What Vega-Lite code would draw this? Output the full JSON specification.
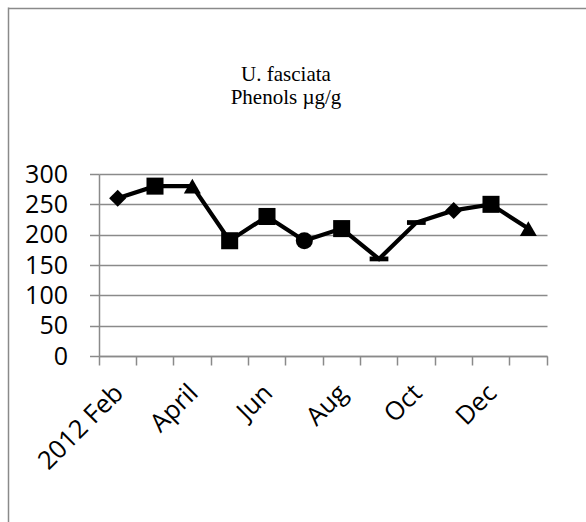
{
  "$schema": "https://vega.github.io/schema/vega-lite/v6.json",
  "width": 448,
  "height": 182,
  "autosize": {"type": "none"},
  "padding": {"left": 99, "top": 174, "right": 39, "bottom": 166},
  "background": "white",
  "config": {
    "view": {"stroke": null},
    "axis": {
      "labelFont": "Open Sans",
      "labelFontSize": 25,
      "labelColor": "black",
      "domainColor": "#8a8a8a",
      "tickColor": "#8a8a8a",
      "gridColor": "#8a8a8a",
      "domainWidth": 1.5,
      "tickWidth": 1.5,
      "gridWidth": 1.5
    }
  },
  "title": {
    "text": ["U. fasciata", "Phenols µg/g"],
    "font": "Liberation Serif",
    "fontSize": 21,
    "fontWeight": "normal",
    "color": "black",
    "anchor": "middle",
    "frame": "group",
    "dx": -37,
    "offset": -104,
    "lineHeight": 23
  },
  "layer": [
    {
      "description": "chart-area border: top and left edges drawn as axis domain lines",
      "data": {"values": [{"edge": 0}, {"edge": 1}]},
      "mark": {"type": "point", "opacity": 0},
      "encoding": {
        "x": {
          "field": "edge",
          "type": "quantitative",
          "scale": {"domain": [0, 1], "range": [-91, 500], "nice": false, "zero": false},
          "axis": {"orient": "top", "offset": 166, "domain": true, "ticks": false, "labels": false, "grid": false, "title": null}
        },
        "y": {
          "field": "edge",
          "type": "quantitative",
          "scale": {"domain": [0, 1], "range": [400, -167], "nice": false, "zero": false},
          "axis": {"orient": "left", "offset": 91, "domain": true, "ticks": false, "labels": false, "grid": false, "title": null}
        }
      }
    },
    {
      "data": {
        "values": [
          {"month": "2012 Feb", "phenols": 260},
          {"month": "Mar", "phenols": 280},
          {"month": "April", "phenols": 280},
          {"month": "May", "phenols": 190},
          {"month": "Jun", "phenols": 230},
          {"month": "Jul", "phenols": 190},
          {"month": "Aug", "phenols": 210},
          {"month": "Sep", "phenols": 160},
          {"month": "Oct", "phenols": 220},
          {"month": "Nov", "phenols": 240},
          {"month": "Dec", "phenols": 250},
          {"month": "2013 Jan", "phenols": 210}
        ]
      },
      "encoding": {
        "x": {
          "field": "month",
          "type": "nominal",
          "sort": null,
          "scale": {"type": "band", "paddingInner": 0, "paddingOuter": 0},
          "axis": {
            "orient": "bottom",
            "title": null,
            "grid": false,
            "domain": true,
            "ticks": true,
            "bandPosition": 1,
            "tickExtra": true,
            "tickSize": 9,
            "labelFontSize": 25.5,
            "labelOffset": -7,
            "labelAngle": -45,
            "labelAlign": "right",
            "labelBaseline": "top",
            "labelPadding": 15,
            "labelOverlap": false,
            "labelExpr": "indexof(['2012 Feb', 'April', 'Jun', 'Aug', 'Oct', 'Dec'], datum.value) >= 0 ? datum.label : ''"
          }
        },
        "y": {
          "field": "phenols",
          "type": "quantitative",
          "scale": {"domain": [0, 300], "nice": false},
          "axis": {
            "orient": "left",
            "title": null,
            "values": [0, 50, 100, 150, 200, 250, 300],
            "grid": true,
            "domain": true,
            "ticks": true,
            "tickSize": 9.5,
            "labelPadding": 22
          }
        }
      },
      "layer": [
        {
          "mark": {"type": "line", "color": "black", "strokeWidth": 4.2}
        },
        {
          "mark": {"type": "point", "filled": true, "opacity": 1, "color": "black", "size": 290, "strokeWidth": 0},
          "encoding": {
            "shape": {
              "field": "month",
              "type": "nominal",
              "sort": null,
              "legend": null,
              "scale": {
                "domain": ["2012 Feb", "Mar", "April", "May", "Jun", "Jul", "Aug", "Sep", "Oct", "Nov", "Dec", "2013 Jan"],
                "range": ["diamond", "square", "triangle-up", "square", "square", "circle", "square", "M-1.1,-0.28H1.1V0.28H-1.1Z", "M-1.1,-0.28H1.1V0.28H-1.1Z", "diamond", "square", "triangle-up"]
              }
            }
          }
        }
      ]
    }
  ],
  "resolve": {"scale": {"x": "independent", "y": "independent"}}
}
